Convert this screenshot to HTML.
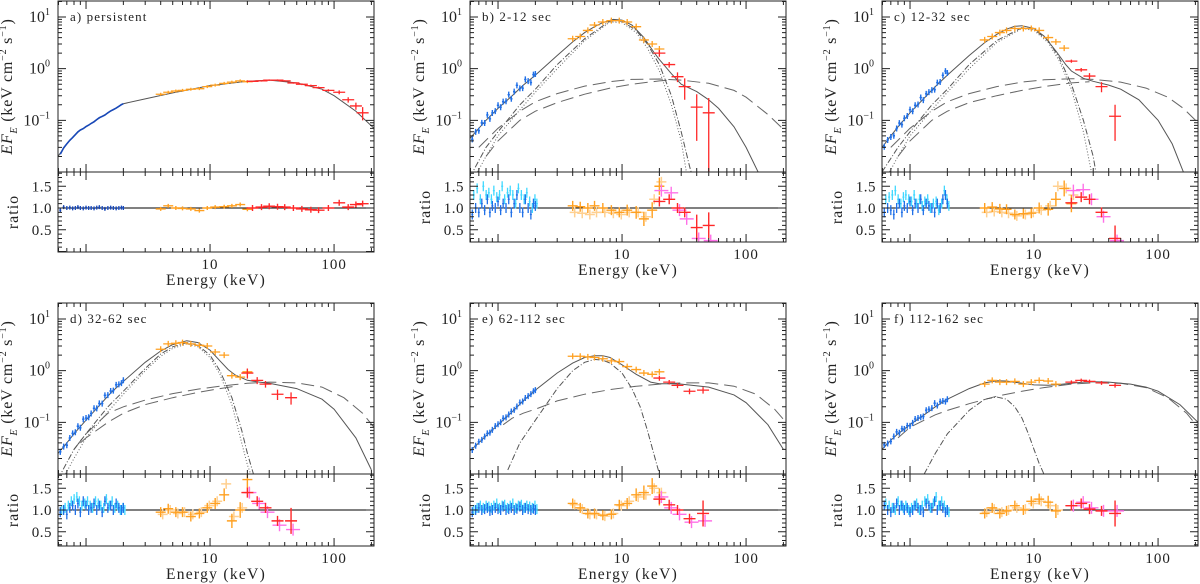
<!DOCTYPE html>
<html><head><meta charset="utf-8"><style>
html,body{margin:0;padding:0;background:#fff;}
svg{display:block;font-family:"Liberation Serif",serif;}
</style></head><body>
<svg id="fig" width="1200" height="584" viewBox="0 0 1200 584" xmlns="http://www.w3.org/2000/svg"></svg>
<script>
// ---------- DATA ----------
const panelLabels = ["a) persistent","b) 2-12 sec","c) 12-32 sec","d) 32-62 sec","e) 62-112 sec","f) 112-162 sec"];
const xTickLabels = ["10","100"];
const xTickValues = [10,100];
const yTickValues = [0.1,1,10];
const yTickExps = ["-1","0","1"];
const ratioTickValues = [0.5,1.0,1.5];
const ratioTickLabels = ["0.5","1.0","1.5"];

const solidE = [
 [0.594,0.7,0.8,0.9,1,1.2,1.5,2,3,5,10,20,30,50,80,100,150,210],
 [0.594,0.7,0.8,1,1.3,1.6,2,3,4,5,6,7,8.5,10,12,15,18,20,25,30,40,50,60,80,100,125],
 [0.594,0.7,0.8,1,1.3,1.6,2,3,4,5,6,7,8,10,12,15,18,20,25,30,40,50,70,100,130,160],
 [0.594,0.7,0.8,1,1.3,1.6,2,3,4,5,6.5,8,10,12,14,16,20,25,30,50,80,100,150,200],
 [0.594,0.7,0.8,1,1.3,1.6,2,3,4,5,6,7,8,10,13,17,20,25,30,50,80,100,150,200],
 [0.594,0.7,0.8,1,1.3,1.6,2,3,4,5,6,8,10,13,16,20,25,30,40,60,80,100,150,210]];
const solidF = [
 [0.02,0.035,0.05,0.065,0.075,0.1,0.14,0.21,0.26,0.34,0.47,0.57,0.6,0.53,0.4,0.3,0.15,0.07],
 [0.045,0.07,0.1,0.17,0.3,0.48,0.75,1.8,3.3,5,6.5,7.8,9,8.7,7,4,2.1,1.5,0.8,0.5,0.36,0.25,0.17,0.075,0.03,0.01],
 [0.03,0.05,0.075,0.14,0.27,0.45,0.75,1.8,3.2,4.6,5.8,6.6,6.8,6.0,4.3,2.2,1.2,0.9,0.65,0.57,0.48,0.4,0.25,0.1,0.035,0.01],
 [0.025,0.04,0.06,0.11,0.22,0.38,0.62,1.45,2.4,3.2,3.8,3.5,2.5,1.55,1.05,0.82,0.65,0.6,0.57,0.45,0.28,0.18,0.05,0.012],
 [0.028,0.04,0.055,0.09,0.16,0.26,0.42,0.9,1.4,1.8,1.95,1.95,1.8,1.3,0.85,0.6,0.56,0.56,0.55,0.48,0.34,0.24,0.09,0.03],
 [0.03,0.045,0.06,0.09,0.14,0.2,0.28,0.45,0.58,0.64,0.63,0.57,0.53,0.52,0.54,0.57,0.6,0.61,0.6,0.55,0.48,0.4,0.22,0.1]];
const dash1E = [null,
 [0.7,1,1.5,2,3,5,8,12,20,30,50,80,100,150,210],
 [0.7,1,1.5,2,3,5,8,12,20,30,50,80,120,160,210],
 [0.8,1,1.5,2,3,5,8,12,16,20,30,50,80,120,170,210],
 [1.1,1.3,1.6,2,3,5,8,12,20,30,50,80,120,170,210],
 [0.8,1,1.3,1.6,2,3,5,8,12,20,30,50,80,120,170,210]];
const dash1F = [null,
 [0.03,0.07,0.15,0.23,0.33,0.46,0.56,0.62,0.63,0.6,0.52,0.38,0.28,0.13,0.06],
 [0.03,0.07,0.15,0.23,0.33,0.45,0.55,0.61,0.64,0.62,0.55,0.42,0.28,0.17,0.09],
 [0.03,0.06,0.15,0.2,0.27,0.36,0.44,0.5,0.54,0.57,0.6,0.58,0.48,0.3,0.15,0.08],
 [0.09,0.12,0.15,0.18,0.26,0.35,0.43,0.49,0.55,0.58,0.58,0.5,0.35,0.18,0.1],
 [0.05,0.08,0.11,0.14,0.17,0.23,0.32,0.4,0.47,0.55,0.58,0.57,0.47,0.3,0.15,0.08]];
const dash2E = [null,
 [0.8,1,1.5,2,3,5,8,12,20,25],
 [0.8,1,1.5,2,3,5,8,12,20,28],
 [0.9,1,1.5,2,3,5,8,12,16],
 null,null];
const dash2F = [null,
 [0.02,0.04,0.1,0.15,0.22,0.32,0.42,0.5,0.58,0.6],
 [0.02,0.04,0.1,0.15,0.22,0.3,0.38,0.45,0.53,0.56],
 [0.04,0.05,0.1,0.15,0.22,0.3,0.38,0.45,0.5],
 null,null];
const dashdotE = [null,
 [0.594,0.8,1,1.5,2,3,5,8,10,13,16,20,25,30,35,37],
 [0.594,0.8,1,1.5,2,3,5,8,10,13,16,20,25,30,32],
 [0.594,0.8,1,1.5,2,3,4,5,6.5,8,10,12,15,18,20,23,25],
 [1.2,1.5,2,3,4,5,6,7,8,10,12,14,16,18,20],
 [1.3,1.6,2,3,4,5,6,7,8,9,10,11,12]];
const dashdotF = [null,
 [0.008,0.03,0.06,0.2,0.4,1.2,3.8,8.4,8.3,5.5,3,1.2,0.3,0.06,0.013,0.008],
 [0.01,0.03,0.06,0.2,0.4,1.2,3.5,6.2,5.8,3.5,1.6,0.5,0.1,0.02,0.008],
 [0.008,0.03,0.06,0.2,0.4,1.1,2.1,2.9,3.5,3.1,2.0,1.0,0.3,0.07,0.025,0.008,0.005],
 [0.012,0.04,0.11,0.45,1.0,1.45,1.65,1.6,1.4,0.9,0.45,0.2,0.07,0.025,0.01],
 [0.01,0.025,0.06,0.17,0.28,0.31,0.28,0.2,0.12,0.06,0.03,0.016,0.01]];
const dotE = [null,
 [0.65,0.8,1,1.5,2,3,5,8,10,13,16,20,25,30,33],
 [0.65,0.8,1,1.5,2,3,5,8,10,13,16,20,25,29],
 [0.65,0.8,1,1.5,2,3,4,5,6.5,8,10,12,15,18,20,22],
 null,null];
const dotF = [null,
 [0.008,0.02,0.05,0.16,0.35,1.0,3.5,8.0,7.8,5,2.5,0.9,0.2,0.04,0.01],
 [0.008,0.02,0.05,0.16,0.35,1.0,3.2,6.0,5.5,3.2,1.4,0.4,0.06,0.01],
 [0.008,0.02,0.05,0.16,0.35,1.0,1.9,2.7,3.3,2.9,1.8,0.85,0.22,0.04,0.015,0.008],
 null,null];

const blueE = [0.62,0.66,0.7,0.74,0.78,0.82,0.86,0.9,0.95,1.0,1.05,1.1,1.16,1.22,1.28,1.35,1.42,1.5,1.58,1.66,1.75,1.84,1.93,2.0];
const orangeE = [4,4.6,5.3,6,7,8.2,9.5,11,13,15,17.5,20];
const redE = [[22,26,30,35,40,47,55,65,75,90,110,130,150,170],[20,24,28,32,40,50],[20,24,28,35,45],[20,24,28,35,45],[20,24,28,35,45],[20,24,28,35,45]];

const orangeFlux = [
 [0.32,0.35,0.37,0.38,0.4,0.41,0.45,0.48,0.52,0.55,0.58,0.56],
 [3.8,4.2,5.5,7,8,8.5,8.5,8,6.5,3.6,3.0,2.4],
 [3.6,4.2,5,5.5,6,6,6,5.5,4,3.3,2.5,null],
 [2.6,3.3,3.4,3.5,3.3,3.1,3.0,2.3,2.0,0.8,0.75,0.95],
 [1.9,1.9,1.85,1.8,1.7,1.55,1.5,1.2,1.05,0.9,0.85,0.95],
 [0.55,0.65,0.6,0.6,0.62,0.55,0.6,0.65,0.63,0.55,null,null]];
const redFlux = [
 [0.57,0.58,0.6,0.6,0.58,0.53,0.5,0.47,0.43,0.38,0.35,0.25,0.19,0.14],
 [2.0,1.2,0.7,0.45,0.18,0.14],
 [1.4,0.95,0.72,0.45,0.12],
 [0.9,0.65,0.55,0.35,0.3],
 [0.72,0.6,0.52,0.4,0.42],
 [0.6,0.65,0.62,0.58,0.52]];
const redFluxErr = [
 [0.02,0.02,0.02,0.02,0.02,0.02,0.02,0.02,0.02,0.02,0.03,0.03,0.03,0.04],
 [0.3,0.15,0.15,0.2,0.14,0.13],
 [0.1,0.08,0.1,0.1,0.08],
 [0.2,0.1,0.08,0.08,0.08],
 [0.08,0.06,0.06,0.05,0.06],
 [0.05,0.05,0.05,0.05,0.05]];

const blueRatio = [
 [0.95,1.02,1.0,1.01,0.99,1.0,1.02,1.0,0.99,1.01,1.0,1.0,0.99,1.01,1.02,1.0,0.98,1.0,1.01,1.0,0.99,1.0,1.01,1.0],
 [0.85,1.0,0.9,1.1,0.95,1.2,0.9,1.05,1.0,1.15,0.95,1.1,1.0,1.2,0.9,1.1,1.3,1.0,0.9,1.2,1.0,0.85,1.1,1.05],
 [0.9,1.0,0.95,0.85,1.0,1.1,0.9,1.05,1.0,1.15,0.95,1.1,1.0,1.2,0.95,1.1,1.05,1.0,0.9,1.1,1.0,1.2,1.3,1.1],
 [0.95,1.0,0.9,1.05,1.1,1.0,1.15,0.95,1.2,1.1,1.0,1.05,1.15,1.0,1.1,0.95,1.2,1.05,1.1,1.0,1.15,1.05,1.0,1.05],
 [0.95,1.0,1.05,1.0,1.02,1.05,0.98,1.0,1.05,1.02,1.0,1.08,1.0,1.02,1.05,1.0,1.03,1.08,1.0,1.05,1.02,1.0,1.03,1.0],
 [1.1,1.0,0.95,1.05,1.15,1.0,1.1,1.0,1.05,0.95,1.0,1.1,1.05,1.0,0.95,1.15,1.1,1.05,1.2,1.0,1.1,1.05,0.95,1.0]];
const cyanRatio = [null,
 [1.3,1.45,1.2,1.5,1.3,1.35,1.2,1.4,1.25,1.3,1.5,1.2,1.35,1.4,1.3,1.1,1.45,1.3,1.2,1.35,1.15,1.0,1.2,1.1],
 [1.2,1.25,1.3,1.4,1.2,1.1,1.25,1.3,1.2,1.15,1.3,1.1,1.2,1.05,1.15,1.2,1.0,1.1,1.15,0.95,1.1,1.4,1.2,1.05],
 [1.0,1.05,1.1,1.2,1.25,1.3,1.2,1.1,1.15,1.2,1.1,1.05,1.2,1.15,1.1,1.05,1.25,1.1,1.2,1.05,1.1,1.0,1.05,1.0],
 [1.0,1.05,1.1,1.05,1.1,1.08,1.05,1.1,1.15,1.05,1.1,1.12,1.05,1.1,1.15,1.05,1.1,1.12,1.05,1.1,1.08,1.05,1.1,1.02],
 [1.15,1.1,1.05,1.0,1.2,1.1,1.05,1.1,1.0,1.05,1.1,1.15,1.0,1.1,1.2,1.25,1.05,1.15,1.3,1.1,1.2,1.1,1.0,0.95]];
const orangeRatio = [
 [0.98,1.05,1.0,0.99,0.98,0.94,1.0,1.02,1.03,1.05,1.08,0.97],
 [1.05,1.03,1.0,1.05,1.0,0.95,0.9,0.95,0.9,0.75,0.95,1.5],
 [1.0,1.02,0.98,0.97,0.85,0.87,0.88,1.0,0.97,1.2,1.45,1.1],
 [0.95,1.03,0.95,0.95,0.85,0.92,1.05,1.15,1.35,0.75,1.0,1.7],
 [1.15,1.05,0.92,0.92,0.88,0.9,1.12,1.15,1.35,1.4,1.55,1.3],
 [0.92,1.05,0.92,0.98,1.1,1.0,1.2,1.25,1.18,0.98,null,null]];
const lightOrangeRatio = [null,
 [0.9,0.88,0.85,0.9,0.9,0.88,0.85,0.9,0.9,0.8,1.2,1.6],
 [0.9,0.92,0.9,0.88,0.82,0.85,0.9,0.95,1.05,1.5,1.45,1.3],
 [0.9,1.0,0.92,0.95,0.9,0.95,1.1,1.2,1.6,0.85,1.05,1.4],
 [1.12,1.02,0.9,0.9,0.86,0.92,1.1,1.2,1.3,1.35,1.5,1.4],
 [0.95,1.02,0.95,1.0,1.05,1.02,1.15,1.2,1.1,1.0,null,null]];
const redRatio = [
 [1.0,1.02,1.04,1.03,1.02,1.0,0.98,0.96,0.95,1.0,1.12,1.02,1.08,1.1],
 [1.15,1.2,1.0,0.9,0.55,0.6],
 [1.12,1.25,1.2,0.9,0.3],
 [1.4,1.2,1.05,0.75,0.75],
 [1.25,1.12,1.0,0.8,0.92],
 [1.1,1.15,1.02,0.98,0.92]];
const magentaRatio = [null,
 [1.4,1.35,0.95,0.75,0.3,0.25],
 [1.4,1.42,1.2,0.8,0.25],
 [1.4,1.15,0.95,0.65,0.55],
 [1.3,1.05,0.9,0.72,0.75],
 [1.1,1.18,1.05,0.98,0.98]];

// ---------- LAYOUT ----------
const NS = "http://www.w3.org/2000/svg";
const svg = document.getElementById('fig');
const colLeft = [58,470,882], W = 316;
const rowTop = [1,303], UH = 171;
const ratioBottom = [252,242,242,546,546,546];
const logMin = -0.226, logMax = 2.322;
const yLogTop = 1.31, yLogBot = -2.0;
const RPX = 43.5, R1 = 36;

function mk(tag, attrs, parent){
  const e = document.createElementNS(NS, tag);
  for (const k in attrs) e.setAttribute(k, attrs[k]);
  (parent||svg).appendChild(e);
  return e;
}
function interp(E, Es, Fs){
  const l = Math.log10(E);
  for (let i=0;i<Es.length-1;i++){
    const a=Math.log10(Es[i]), b=Math.log10(Es[i+1]);
    if (l>=a && l<=b){ const t=(l-a)/(b-a); return Math.pow(10, Math.log10(Fs[i])*(1-t)+Math.log10(Fs[i+1])*t); }
  }
  return Fs[Fs.length-1];
}

for (let p=0;p<6;p++){
  const L = colLeft[p%3], T = rowTop[Math.floor(p/3)], UB = T+UH, RB = ratioBottom[p];
  const xS = E => L + (Math.log10(E)-logMin)/(logMax-logMin)*W;
  const yS = f => T + (yLogTop-Math.log10(f))/(yLogTop-yLogBot)*UH;
  const rS = r => UB + R1 - (r-1)*RPX;
  const g = mk('g', {});
  
  
  const cid = 'clipU'+p, rid = 'clipR'+p;
  const defs = mk('defs', {}, g);
  const c1 = mk('clipPath', {id:cid}, defs); mk('rect',{x:L,y:T,width:W,height:UH},c1);
  const c2 = mk('clipPath', {id:rid}, defs); mk('rect',{x:L,y:UB,width:W,height:RB-UB},c2);
  const gu = mk('g', {'clip-path':'url(#'+cid+')'}, g);
  const gr = mk('g', {'clip-path':'url(#'+rid+')'}, g);

  function curve(Es, Fs, dash, name, col){
    if (!Es) return;
    const d = Es.map((E,i)=>(i?'L':'M')+xS(E).toFixed(1)+','+yS(Fs[i]).toFixed(1)).join('');
    const el = mk('path', {d:d, fill:'none', stroke:col||'#555', 'stroke-width':1, 'stroke-dasharray':dash||'none'}, gu);
    
    
  }
  curve(dash1E[p], dash1F[p], '13,6', 'model-comptonization-1', '#666');
  curve(dash2E[p], dash2F[p], '13,6', 'model-comptonization-2', '#666');
  curve(dashdotE[p], dashdotF[p], '6,2,1,2', 'model-blackbody-dashdot', '#555');
  curve(dotE[p], dotF[p], '1,2', 'model-blackbody-dotted', '#666');
  curve(solidE[p], solidF[p], null, 'model-total', '#555');

  function cross(par, x, y, hx, hy, col, w, name){
    const el = mk('path', {d:`M${x-hx},${y}H${x+hx}M${x},${y-hy}V${y+hy}`, stroke:col, 'stroke-width':w||1.2, fill:'none'}, par);
    
    
  }
  const blueCol = p===0 ? '#1848b8' : '#2070e8';
  if (p===0){
    const d = blueE.map((E,i)=>(i?'L':'M')+xS(E).toFixed(1)+','+yS(interp(E,solidE[p],solidF[p])*blueRatio[p][i]).toFixed(1)).join('');
    const el = mk('path',{d:d,fill:'none',stroke:blueCol,'stroke-width':1.6},gu);
    
    
  } else {
    blueE.forEach((E,i)=>{
      cross(gu, xS(E), yS(interp(E,solidE[p],solidF[p])*blueRatio[p][i]), 1.2, 3, blueCol, 1.4, 'soft-xray-point');
    });
  }
  orangeE.forEach((E,i)=>{
    const f = orangeFlux[p][i]; if (f==null) return;
    cross(gu, xS(E), yS(f), 5, p===0?1.5:3, '#ffa020', 1.3, 'hard-xray-point');
  });
  redE[p].forEach((E,i)=>{
    const f = redFlux[p][i]; const e = redFluxErr[p][i];
    const y1 = yS(Math.max(f-e, 0.001)), y2 = yS(f+e), x = xS(E);
    const el = mk('path',{d:`M${x-6},${yS(f)}H${x+6}M${x},${y2}V${y1}`,stroke:'#ff2828','stroke-width':1.3,fill:'none'},gu);
    
    
  });

  const one = mk('line',{x1:L,x2:L+W,y1:rS(1),y2:rS(1),stroke:'#000','stroke-width':1},gr);
  
  
  if (cyanRatio[p]) blueE.forEach((E,i)=>cross(gr, xS(E)+1.5, rS(cyanRatio[p][i]), 1, 5, '#40d8ff', 1.3, 'ratio-cyan-point'));
  blueE.forEach((E,i)=>cross(gr, xS(E), rS(blueRatio[p][i]), 1, p===0?2:5, blueCol, 1.3, 'ratio-blue-point'));
  if (lightOrangeRatio[p]) orangeE.forEach((E,i)=>{ const r=lightOrangeRatio[p][i]; if(r!=null) cross(gr, xS(E)+2, rS(r), 5, 5, '#ffd090', 1.5, 'ratio-light-orange-point'); });
  orangeE.forEach((E,i)=>{ const r=orangeRatio[p][i]; if(r!=null) cross(gr, xS(E), rS(r), 5, p===0?2:5+Math.max(0,Math.log10(E)-1)*12, '#ffa020', 1.4, 'ratio-orange-point'); });
  if (magentaRatio[p]) redE[p].forEach((E,i)=>cross(gr, xS(E)+2, rS(magentaRatio[p][i]), 7, 6, '#ff70e8', 1.4, 'ratio-magenta-point'));
  redE[p].forEach((E,i)=>cross(gr, xS(E), rS(redRatio[p][i]), 6, p===0?3:5+(E>38?8:0), '#ff2828', 1.4, 'ratio-red-point'));

  const f1 = mk('rect',{x:L,y:T,width:W,height:UH,fill:'none',stroke:'#222','stroke-width':1},g);
  
  
  const f2 = mk('rect',{x:L,y:UB,width:W,height:RB-UB,fill:'none',stroke:'#222','stroke-width':1},g);
  
  

  let td = '';
  for (let dec=-1; dec<=2; dec++) for (let m=1;m<=9;m++){
    const E = m*Math.pow(10,dec); const l=Math.log10(E); if(l<logMin||l>logMax) continue;
    const x = xS(E), len = m===1?8:4;
    td += `M${x},${T}v${len}M${x},${UB}v${-len}M${x},${UB}v${len}M${x},${RB}v${-len}`;
  }
  for (let dec=-2; dec<=1; dec++) for (let m=1;m<=9;m++){
    const f = m*Math.pow(10,dec); const l=Math.log10(f); if(l<=yLogBot||l>yLogTop) continue;
    const y = yS(f), len = m===1?8:4;
    td += `M${L},${y}h${len}M${L+W},${y}h${-len}`;
  }
  for (let k=0;k<=18;k++){
    const r = 0.1*k; const y = rS(r); if (y<UB||y>RB) continue;
    const len = (k%5===0)?8:4;
    td += `M${L},${y}h${len}M${L+W},${y}h${-len}`;
  }
  const ticks = mk('path',{d:td,stroke:'#222','stroke-width':1,fill:'none'},g);
  
  

  xTickValues.forEach((v,i)=>{
    const t = mk('text',{x:xS(v),y:RB+17,'text-anchor':'middle','font-size':15,'letter-spacing':1,fill:'#222'},g);
    t.textContent = xTickLabels[i];
    
    
  });
  yTickValues.forEach((v,i)=>{
    const t = mk('text',{x:L-8,y:yS(v)+5,'text-anchor':'end','font-size':16,fill:'#222'},g);
    t.textContent = '10';
    const s = mk('tspan',{dy:-7,'font-size':10},t); s.textContent = yTickExps[i].replace('-','\u2212');
    
    
  });
  ratioTickValues.forEach((v,i)=>{
    const t = mk('text',{x:L-6,y:rS(v)+5,'text-anchor':'end','font-size':15,'letter-spacing':0.5,fill:'#222'},g);
    t.textContent = ratioTickLabels[i];
    
    
  });
  const xl = mk('text',{x:L+W/2,y:RB+33,'text-anchor':'middle','font-size':15.5,'letter-spacing':1.3,fill:'#222'},g);
  xl.textContent = 'Energy (keV)';
  
  
  const cy = T+UH/2;
  const yl = mk('text',{x:0,y:0,'text-anchor':'middle','font-size':16,'letter-spacing':0.8,fill:'#222',transform:`translate(${L-46},${cy}) rotate(-90)`},g);
  const it = mk('tspan',{'font-style':'italic'},yl); it.textContent='EF';
  const sb = mk('tspan',{'font-style':'italic','font-size':10,dy:5},yl); sb.textContent='E';
  const rest = mk('tspan',{dy:-5},yl); rest.textContent=' (keV cm';
  const s1 = mk('tspan',{dy:-6,'font-size':10},yl); s1.textContent='\u22122';
  const r2 = mk('tspan',{dy:6},yl); r2.textContent=' s';
  const s2 = mk('tspan',{dy:-6,'font-size':10},yl); s2.textContent='\u22121';
  const r3 = mk('tspan',{dy:6},yl); r3.textContent=')';
  
  
  const rl = mk('text',{x:0,y:0,'text-anchor':'middle','font-size':16,'letter-spacing':1,fill:'#222',transform:`translate(${L-40},${(UB+RB)/2}) rotate(-90)`},g);
  rl.textContent = 'ratio';
  
  
  const pl = mk('text',{x:L+12,y:T+20,'font-size':13,fill:'#222','letter-spacing':'1.1'},g);
  pl.textContent = panelLabels[p];
  
  
}
</script>
</body></html>
